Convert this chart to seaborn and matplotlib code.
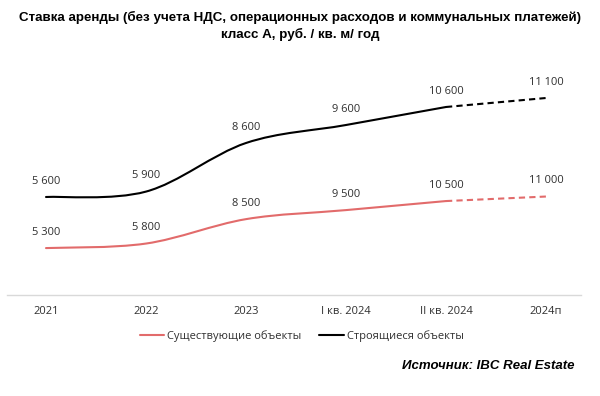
import matplotlib.pyplot as plt
import numpy as np
import seaborn as sns
from matplotlib.lines import Line2D
from matplotlib.patches import PathPatch
from matplotlib.path import Path

sns.set_theme(style="white")
plt.rcParams["font.family"] = ["Open Sans", "DejaVu Sans"]

# Data -----------------------------------------------------------------------
periods = ["2021", "2022", "2023", "I кв. 2024", "II кв. 2024", "2024п"]
existing = [5300, 5800, 8500, 9500, 10500, 11000]
under_construction = [5600, 5900, 8600, 9600, 10600, 11100]
n_actual = 5  # last point is a forecast (dashed)

series_names = ["Существующие объекты", "Строящиеся объекты"]
RED = "#e26b6b"
BLACK = "#000000"
TEXT = "#303030"


def smooth_path(xs, ys):
    """Excel-like smoothed line: Catmull-Rom converted to cubic beziers."""
    pts = np.column_stack([xs, ys]).astype(float)
    verts = [pts[0]]
    codes = [Path.MOVETO]
    for i in range(len(pts) - 1):
        p_prev = pts[max(i - 1, 0)]
        p_next2 = pts[min(i + 2, len(pts) - 1)]
        c1 = pts[i] + (pts[i + 1] - p_prev) / 6
        c2 = pts[i + 1] - (p_next2 - pts[i]) / 6
        verts += [c1, c2, pts[i + 1]]
        codes += [Path.CURVE4] * 3
    return Path(verts, codes)


def draw_series(ax, values, color):
    x = np.arange(len(values))
    patch = PathPatch(
        smooth_path(x[:n_actual], values[:n_actual]),
        fill=False, edgecolor=color, linewidth=1.5, capstyle="round",
    )
    ax.add_patch(patch)
    sns.lineplot(
        x=x[n_actual - 1:], y=values[n_actual - 1:], ax=ax, color=color,
        linewidth=1.5, linestyle=(0, (3, 2)), errorbar=None,
    )
    for xi, v in zip(x, values):
        ax.annotate(
            f"{v:,}".replace(",", " "), (xi, v), xytext=(0, 11.5),
            textcoords="offset points", ha="center", va="center",
            fontsize=8, color=TEXT,
        )


fig = plt.figure(figsize=(6, 3.96), dpi=100)
ax = fig.add_axes([7 / 600, 101 / 396, 574 / 600, 235 / 396])
ax2 = ax.twinx()

draw_series(ax, under_construction, BLACK)
draw_series(ax2, existing, RED)

ax.set_xlim(-0.39, 5.35)
ax.set_ylim(155, 13211)
ax2.set_ylim(110, 26100)

ax.set_xticks(range(len(periods)))
ax.set_xticklabels(periods, fontsize=8, color=TEXT)
ax.tick_params(axis="x", length=0, pad=8)
ax.set_yticks([])
ax2.set_yticks([])
for a in (ax, ax2):
    for side in ("top", "left", "right", "bottom"):
        a.spines[side].set_visible(False)
    a.set_ylabel("")
    a.set_facecolor("none")
ax.spines["bottom"].set_visible(True)
ax.spines["bottom"].set_color("#d9d9d9")
ax.spines["bottom"].set_linewidth(1)

fig.text(
    0.5, 1 - 17 / 396,
    "Ставка аренды (без учета НДС, операционных расходов и коммунальных платежей)",
    ha="center", va="center", fontsize=9.6, fontweight="bold",
    family="Liberation Sans", color="black",
)
fig.text(
    0.5, 1 - 34 / 396, "класс А, руб. / кв. м/ год",
    ha="center", va="center", fontsize=9.6, fontweight="bold",
    family="Liberation Sans", color="black",
)

handles = [
    Line2D([], [], color=RED, linewidth=1.5),
    Line2D([], [], color=BLACK, linewidth=1.5),
]
fig.legend(
    handles, series_names, loc="center", bbox_to_anchor=(0.503, 1 - 336 / 396),
    ncol=2, frameon=False, fontsize=8, handlelength=2.2, handletextpad=0.3,
    columnspacing=1.6, labelcolor=TEXT,
)

fig.text(
    575 / 600, 1 - 366 / 396, "Источник: IBC Real Estate",
    ha="right", va="center", fontsize=9.5, fontweight="bold", style="italic",
    family="Liberation Sans", color="black",
)

fig.savefig("out.png", dpi=100)
